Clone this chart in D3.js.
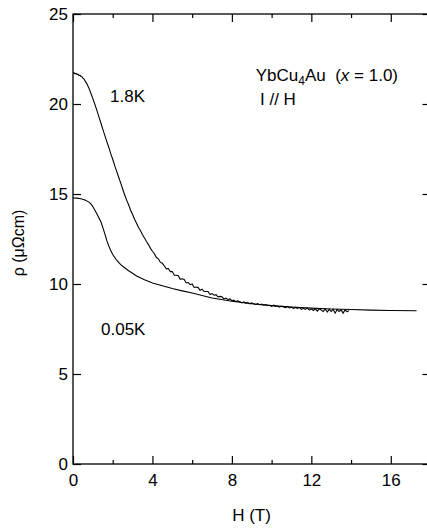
<!DOCTYPE html>
<html>
<head>
<meta charset="utf-8">
<script src="https://cdn.jsdelivr.net/npm/d3@7"></script>
<style>
  body { margin: 0; background: #fff; }
  svg { display: block; }
  text { font-family: "Liberation Sans", Arial, Helvetica, sans-serif; fill: #000; }
</style>
</head>
<body>
<svg id="chart" width="427" height="528"></svg>
<script>
// Magnetoresistance of YbCu4Au, current parallel to field.

// T = 0.05 K sweep
const field005 = [0, 0.2, 0.4, 0.6, 0.8, 0.9, 1.0, 1.1, 1.2, 1.3, 1.4, 1.5, 1.6, 1.7, 1.8, 1.9, 2.0,
  2.2, 2.4, 2.6, 2.8, 3.0, 3.2, 3.6, 4.0, 4.5, 5.0, 5.5, 6.0, 7.0, 8.0, 9.0, 10.0, 11.0, 12.0,
  13.0, 14.0, 15.0, 16.0, 17.3];
const rho005 = [14.78, 14.77, 14.74, 14.67, 14.55, 14.45, 14.30, 14.10, 13.90, 13.68, 13.47, 13.15,
  12.80, 12.42, 12.12, 11.86, 11.64, 11.32, 11.08, 10.90, 10.74, 10.60, 10.45, 10.24, 10.06, 9.90,
  9.75, 9.62, 9.50, 9.22, 9.04, 8.90, 8.80, 8.72, 8.66, 8.61, 8.58, 8.55, 8.53, 8.51];

// T = 1.8 K sweep
const field18 = [0, 0.05, 0.1, 0.15, 0.2, 0.25, 0.3, 0.35, 0.4, 0.45, 0.5, 0.55, 0.6, 0.7, 0.8, 0.9,
  1.0, 1.1, 1.2, 1.3, 1.4, 1.5, 1.6, 1.7, 1.8, 1.9, 2.0, 2.1, 2.2, 2.3, 2.4, 2.5, 2.6, 2.7, 2.8,
  2.9, 3.0, 3.1, 3.2, 3.3, 3.4, 3.5, 3.6, 3.7, 3.8, 3.9,
  4.0, 4.1, 4.2, 4.3, 4.4, 4.5, 4.6, 4.7, 4.8, 4.9, 5.0, 5.1, 5.2, 5.3, 5.4, 5.5, 5.6, 5.7, 5.8, 5.9,
  6.0, 6.1, 6.2, 6.3, 6.4, 6.5, 6.6, 6.7, 6.8, 6.9, 7.0, 7.1, 7.2, 7.3, 7.4, 7.5, 7.6, 7.7, 7.8, 7.9,
  8.0, 8.1, 8.2, 8.3, 8.4, 8.5, 8.6, 8.7, 8.8, 8.9, 9.0, 9.1, 9.2, 9.3, 9.4, 9.5, 9.6, 9.7, 9.8, 9.9,
  10.0, 10.1, 10.2, 10.3, 10.4, 10.5, 10.6, 10.7, 10.8, 10.9, 11.0, 11.1, 11.2, 11.3, 11.4, 11.5,
  11.6, 11.7, 11.8, 11.9, 12.0, 12.1, 12.2, 12.3, 12.4, 12.5, 12.6, 12.7, 12.8, 12.9, 13.0, 13.1,
  13.2, 13.3, 13.4, 13.5, 13.6, 13.7, 13.8, 13.9];
const rho18 = [21.72, 21.74, 21.68, 21.70, 21.64, 21.66, 21.58, 21.60, 21.53, 21.52, 21.44, 21.40,
  21.30, 21.12, 20.88, 20.60, 20.30, 19.98, 19.66, 19.30, 18.96, 18.60, 18.26, 17.92, 17.60, 17.24,
  16.93, 16.58, 16.26, 15.93, 15.62, 15.28, 14.96, 14.66, 14.40, 14.10, 13.86, 13.60, 13.38, 13.14,
  12.96, 12.74, 12.56, 12.36, 12.19, 11.98,
  11.82, 11.68, 11.47, 11.40, 11.20, 11.15, 11.00, 10.84, 10.86, 10.69, 10.69, 10.49, 10.49, 10.46,
  10.26, 10.29, 10.25, 10.06, 10.08, 9.96, 10.00, 9.81, 9.83, 9.80, 9.65, 9.71, 9.58, 9.58, 9.58, 9.42,
  9.47, 9.38, 9.41, 9.28, 9.31, 9.29, 9.17, 9.22, 9.14, 9.17, 9.07, 9.10, 9.02, 9.06, 9.02, 8.95,
  9.01, 8.94, 8.97, 8.90, 8.95, 8.90, 8.86, 8.91, 8.85, 8.88, 8.82, 8.86, 8.80, 8.82, 8.76, 8.82,
  8.76, 8.78, 8.71, 8.77, 8.72, 8.68, 8.75, 8.67, 8.71, 8.64, 8.70, 8.64, 8.69, 8.59, 8.65, 8.59,
  8.66, 8.55, 8.62, 8.53, 8.62, 8.49, 8.62, 8.55, 8.47, 8.61, 8.44, 8.59, 8.47, 8.59, 8.38, 8.59,
  8.47, 8.56, 8.38, 8.56, 8.46, 8.52];

const xMajorTicks = [0, 4, 8, 12, 16];
const xMinorTicks = [2, 6, 10, 14];
const yMajorTicks = [0, 5, 10, 15, 20, 25];

const svg = d3.select("#chart");
const plotLeft = 73, plotRight = 430.5, plotTop = 14, plotBottom = 464;

const x = d3.scaleLinear().domain([0, 18]).range([plotLeft, plotRight]);
const y = d3.scaleLinear().domain([0, 25]).range([plotBottom, plotTop]);

const FS = 17;

function styleAxis(g) {
  g.select(".domain").remove();
  g.selectAll(".tick line").attr("stroke", "#000").attr("stroke-width", 1.2);
  g.selectAll("text").attr("font-size", FS).attr("font-family", "Liberation Sans, Arial, sans-serif");
}

// bottom axis: labelled major ticks and unlabelled minor ticks, pointing inward
svg.append("g").attr("transform", `translate(0,${plotBottom})`)
  .call(d3.axisBottom(x).tickValues(xMajorTicks).tickSize(-8).tickPadding(10).tickFormat(d3.format("d")))
  .call(styleAxis);
svg.append("g").attr("transform", `translate(0,${plotBottom})`)
  .call(d3.axisBottom(x).tickValues(xMinorTicks).tickSize(-4).tickFormat(""))
  .call(styleAxis);

// top axis mirrors the bottom one
svg.append("g").attr("transform", `translate(0,${plotTop})`)
  .call(d3.axisTop(x).tickValues(xMajorTicks).tickSize(-8).tickFormat(""))
  .call(styleAxis);
svg.append("g").attr("transform", `translate(0,${plotTop})`)
  .call(d3.axisTop(x).tickValues(xMinorTicks).tickSize(-4).tickFormat(""))
  .call(styleAxis);

// left axis
svg.append("g").attr("transform", `translate(${plotLeft},0)`)
  .call(d3.axisLeft(y).tickValues(yMajorTicks).tickSize(-8).tickPadding(5).tickFormat(d3.format("d")))
  .call(styleAxis);

// right axis (ticks only)
svg.append("g").attr("transform", `translate(${plotRight},0)`)
  .call(d3.axisRight(y).tickValues(yMajorTicks).tickSize(-8).tickFormat(""))
  .call(styleAxis);

// frame
svg.append("rect")
  .attr("x", plotLeft).attr("y", plotTop)
  .attr("width", plotRight - plotLeft).attr("height", plotBottom - plotTop)
  .attr("fill", "none").attr("stroke", "#000").attr("stroke-width", 1.3);

// curves
const line = d3.line().x(d => x(d[0])).y(d => y(d[1]));
const low = field005.map((h, i) => [h, rho005[i]]);
const high = field18.map((h, i) => [h, rho18[i]]);

svg.append("path").datum(low)
  .attr("d", line).attr("fill", "none").attr("stroke", "#000").attr("stroke-width", 1.1);
svg.append("path").datum(high)
  .attr("d", line).attr("fill", "none").attr("stroke", "#000").attr("stroke-width", 1.1);

// axis titles
svg.append("text")
  .attr("x", (plotLeft + 430) / 2).attr("y", 521)
  .attr("text-anchor", "middle").attr("font-size", FS)
  .text("H (T)");

svg.append("text")
  .attr("transform", `translate(24,${(plotTop + plotBottom) / 2 + 4}) rotate(-90)`)
  .attr("text-anchor", "middle").attr("font-size", 16)
  .text("ρ (μΩcm)");

// curve labels
svg.append("text").attr("x", 110).attr("y", 102).attr("font-size", FS).text("1.8K");
svg.append("text").attr("x", 101).attr("y", 335).attr("font-size", FS).text("0.05K");

// sample annotation
const title = svg.append("text").attr("x", 398).attr("y", 81)
  .attr("text-anchor", "end").attr("font-size", FS);
title.append("tspan").text("YbCu");
title.append("tspan").attr("font-size", 12).attr("dy", 4).text("4");
title.append("tspan").attr("dy", -4).text("Au\u00a0\u00a0(");
title.append("tspan").attr("font-style", "italic").text("x");
title.append("tspan").text("\u00a0= 1.0)");

svg.append("text").attr("x", 260).attr("y", 105).attr("font-size", FS).text("I // H");
</script>
</body>
</html>
